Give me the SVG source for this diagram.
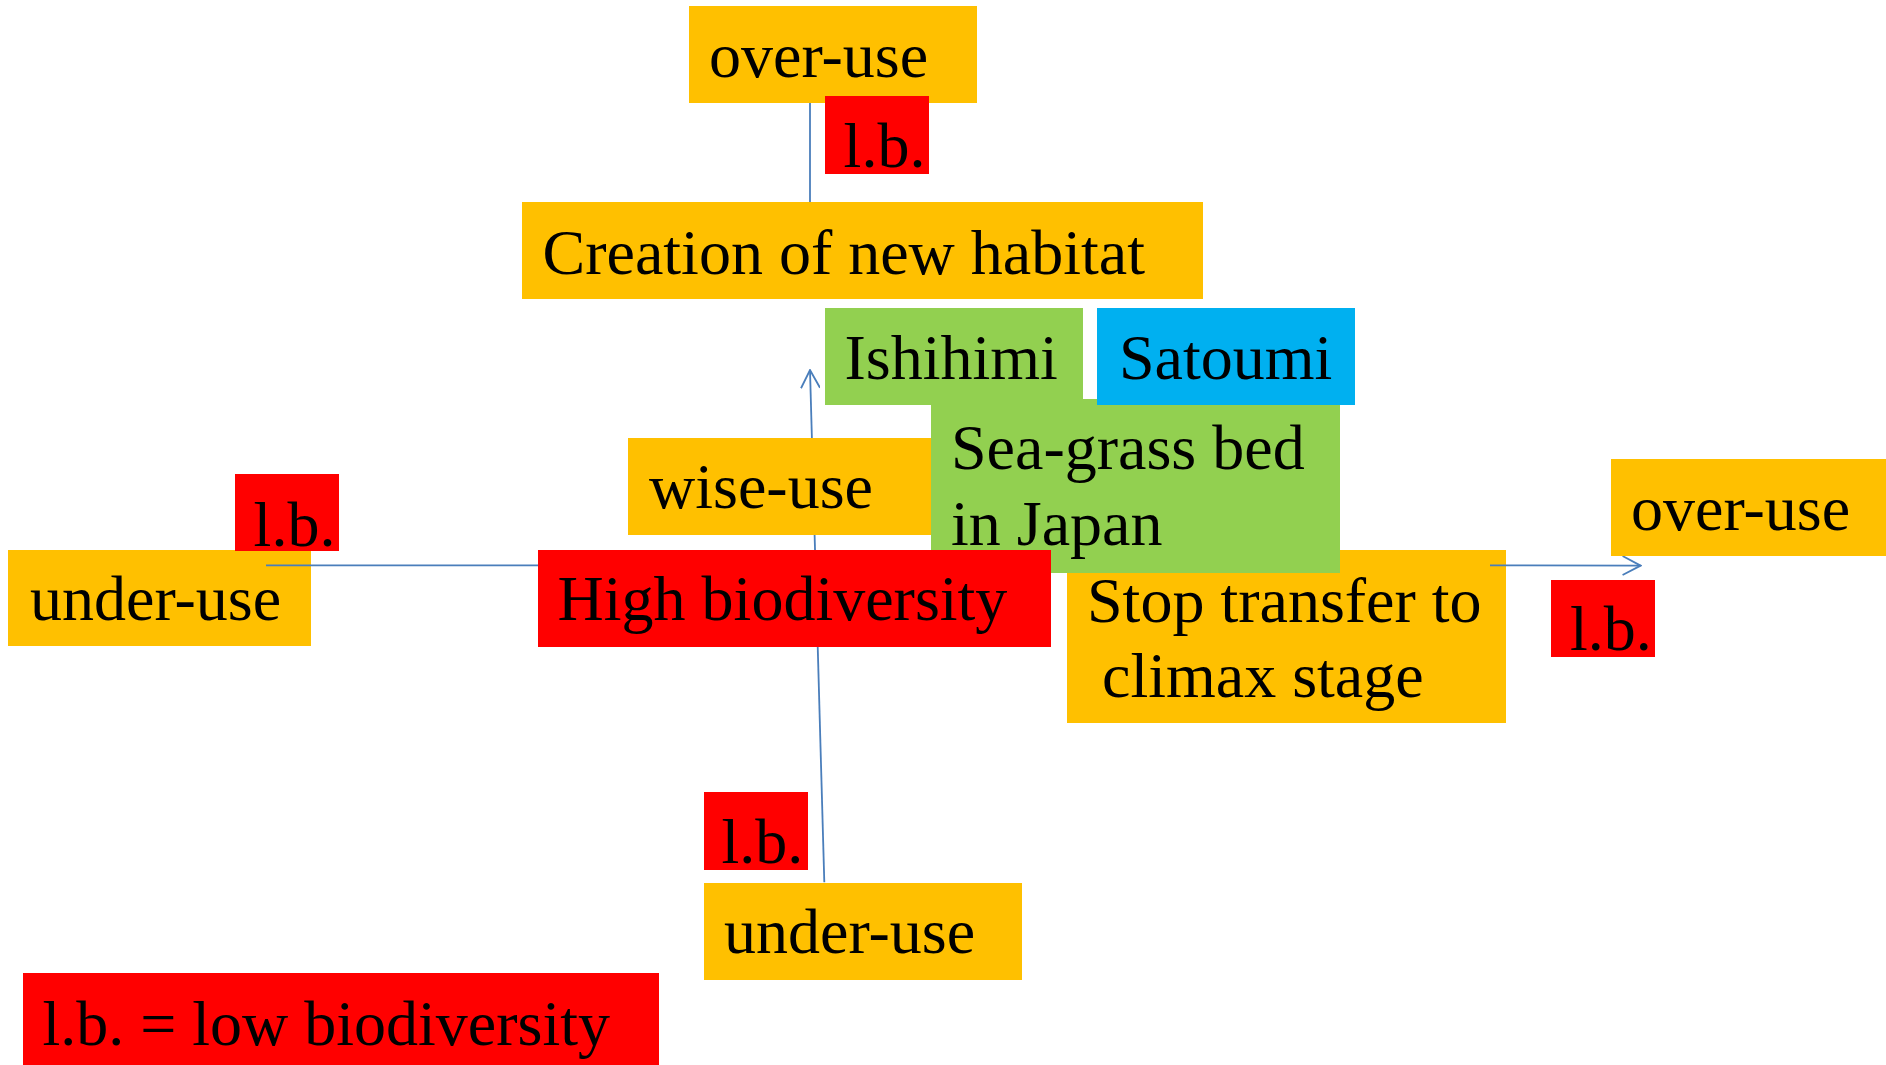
<svg xmlns="http://www.w3.org/2000/svg" width="1886" height="1065" viewBox="0 0 1886 1065">
<style>
text{font-family:"Liberation Serif","Times New Roman",serif;font-size:64px;fill:#000}
.o{fill:#FFC000}.r{fill:#FF0000}.g{fill:#92D050}.b{fill:#00B0F0}
.c{stroke:#4A7EBB;stroke-width:1.8;fill:none}
</style>
<defs>
<marker id="ah" viewBox="0 0 20 20" refX="19" refY="10" markerWidth="20" markerHeight="20" markerUnits="userSpaceOnUse" orient="auto">
<path d="M1,0.5 L19,10 L1,19.5" fill="none" stroke="#4A7EBB" stroke-width="1.8"/>
</marker>
</defs>
<rect width="1886" height="1065" fill="#fff"/>
<g id="under-use-left"><rect class="o" x="8" y="550" width="303" height="96"/><text x="30" y="620">under-use</text></g>
<g id="stop-transfer"><rect class="o" x="1067" y="550" width="439" height="173"/><text x="1087" y="622">Stop transfer to</text><text x="1102" y="697">climax stage</text></g>
<g id="connectors">
<line class="c" x1="810" y1="103" x2="810" y2="202"/>
<line class="c" x1="824.3" y1="882.3" x2="810" y2="370" marker-end="url(#ah)"/>
<line class="c" x1="266" y1="565.3" x2="600" y2="565.3"/>
<line class="c" x1="1490" y1="565.3" x2="1640.6" y2="565.6" marker-end="url(#ah)"/>
</g>
<g id="over-use-top"><rect class="o" x="689" y="6" width="288" height="97"/><text x="709" y="77">over-use</text></g>
<g id="lb-top"><rect class="r" x="825" y="96" width="104" height="78"/><text x="843.6" y="166.7">l.b.</text></g>
<g id="creation"><rect class="o" x="522" y="202" width="681" height="97"/><text x="542.5" y="274">Creation of new habitat</text></g>
<g id="sea-grass"><rect class="g" x="931" y="399" width="409" height="174"/><text x="951" y="469">Sea-grass bed</text><text x="951" y="545">in Japan</text></g>
<g id="ishihimi"><rect class="g" x="825" y="308" width="258" height="97"/><text x="844.5" y="379">Ishihimi</text></g>
<g id="satoumi"><rect class="b" x="1097" y="308" width="258" height="97"/><text x="1119" y="379">Satoumi</text></g>
<g id="wise-use"><rect class="o" x="628" y="438" width="303" height="97"/><text x="649" y="508">wise-use</text></g>
<g id="lb-left"><rect class="r" x="235" y="474" width="104" height="77"/><text x="253.6" y="546">l.b.</text></g>
<g id="high-biodiversity"><rect class="r" x="538" y="550" width="513" height="97"/><text x="557.6" y="620">High biodiversity</text></g>
<g id="over-use-right"><rect class="o" x="1611" y="459" width="275" height="97"/><text x="1631" y="530">over-use</text></g>
<g id="lb-right"><rect class="r" x="1551" y="580" width="104" height="77"/><text x="1570" y="650">l.b.</text></g>
<g id="lb-bottom"><rect class="r" x="704" y="792" width="104" height="78"/><text x="721.5" y="863">l.b.</text></g>
<g id="under-use-bottom"><rect class="o" x="704" y="883" width="318" height="97"/><text x="724" y="953">under-use</text></g>
<g id="legend"><rect class="r" x="23" y="973" width="636" height="92"/><text x="42.4" y="1045">l.b. = low biodiversity</text></g>
</svg>
